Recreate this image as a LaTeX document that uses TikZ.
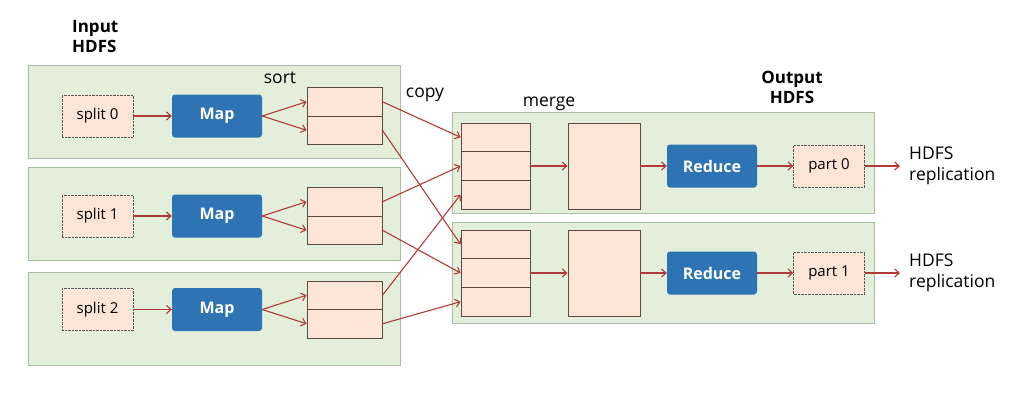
\documentclass[tikz,border=0pt]{standalone}
\usepackage{fontspec}
\setmainfont{Open Sans}
\usetikzlibrary{arrows.meta}
\definecolor{panelgreen}{HTML}{E3EFDA}
\definecolor{panelline}{HTML}{A9BDA6}
\definecolor{boxpink}{HTML}{FCE4D6}
\definecolor{boxline}{HTML}{5A4B40}
\definecolor{taskblue}{HTML}{2E74B5}
\definecolor{flowred}{HTML}{B03A3A}
\tikzstyle{panel}=[
  draw=panelline,
  fill=panelgreen,
  line width=0.8pt,
  inner sep=0pt
]
\tikzstyle{datafile}=[
  draw=gray!70!black,
  densely dotted,
  fill=boxpink,
  minimum width=71pt,
  minimum height=42pt,
  inner sep=0pt,
  font=\fontsize{15}{18}\selectfont
]
\tikzstyle{task}=[
  fill=taskblue,
  rounded corners=3pt,
  text=white,
  minimum width=90pt,
  minimum height=43pt,
  inner sep=0pt,
  font=\bfseries\fontsize{16}{18}\selectfont
]
\tikzstyle{buffer}=[
  draw=boxline,
  fill=boxpink,
  line width=0.9pt,
  inner sep=0pt
]
\tikzstyle{flow}=[
  draw=flowred,
  line width=1.1pt,
  -{Straight Barb[length=4.5pt,width=8pt]}
]
\tikzstyle{caption}=[
  inner sep=0pt,
  font=\fontsize{17.5}{21}\selectfont
]

\begin{document}
\begin{tikzpicture}[x=1pt,y=-1pt]
  \useasboundingbox (0,0) rectangle (1025,402);

  \def \SplitX {97.5}
  \def \MapX {217}
  \def \SortX {344.5}
  \def \SortH {28.5}

  \def \MergeX {495.5}
  \def \MergeH {28.7}
  \def \BigX {604}
  \def \ReduceX {712}
  \def \PartX {829}

  % map side
  \foreach \i/\y/\py in {0/116/111.5, 1/216/213.5, 2/309.5/318.5}{
    \node[panel, minimum width=372pt, minimum height=93pt] (mappanel\i) at (214,\py) {};
    \node[datafile] (split\i) at (\SplitX,\y) {split \i};
    \node[task] (map\i) at (\MapX,\y) {Map};
    \node[buffer, minimum width=75pt, minimum height=\SortH pt] (sorta\i) at (\SortX,\y-\SortH/2) {};
    \node[buffer, minimum width=75pt, minimum height=\SortH pt] (sortb\i) at (\SortX,\y+\SortH/2) {};
    \draw[flow] (split\i) -- (map\i);
    \draw[flow] (map\i.east) -- (sorta\i.west);
    \draw[flow] (map\i.east) -- (sortb\i.west);
  }

  % reduce side
  \foreach \j/\y/\py in {0/166/163, 1/273/272.5}{
    \node[panel, minimum width=422pt, minimum height=101pt] (redpanel\j) at (663,\py) {};
    \foreach \k in {1,2,3}{
      \node[buffer, minimum width=69pt, minimum height=\MergeH pt] (merge\j\k) at (\MergeX,\y+\k*\MergeH-2*\MergeH) {};
    }
    \node[buffer, minimum width=72pt, minimum height=86pt] (big\j) at (\BigX,\y) {};
    \node[task] (reduce\j) at (\ReduceX,\y) {Reduce};
    \node[datafile] (part\j) at (\PartX,\y) {part \j};
    \node[caption, anchor=west, align=left, inner xsep=9pt] (out\j) at (900,\y) {HDFS\\replication};
    \draw[flow] (merge\j2.east) -- (big\j.west);
    \draw[flow] (big\j.east) -- (reduce\j.west);
    \draw[flow] (reduce\j) -- (part\j);
    \draw[flow] (part\j) -- (out\j.west);
  }

  % copy
  \foreach \i/\k in {0/1, 1/2, 2/3}{
    \draw[flow] (sorta\i.east) -- (merge0\k.west);
    \draw[flow] (sortb\i.east) -- (merge1\k.west);
  }

  \node[caption] (sortlbl) at (280,78) {sort};
  \node[caption] (copylbl) at (425,95) {copy};
  \node[caption] (mergelbl) at (549,104) {merge};
  \node[caption, anchor=west, align=left, font=\bfseries\fontsize{17}{19.5}\selectfont] (inlbl) at (72,36.5) {Input\\HDFS};
  \node[caption, align=center, font=\bfseries\fontsize{17}{19.5}\selectfont] (outlbl) at (792,87.5) {Output\\HDFS};
\end{tikzpicture}
\end{document}
